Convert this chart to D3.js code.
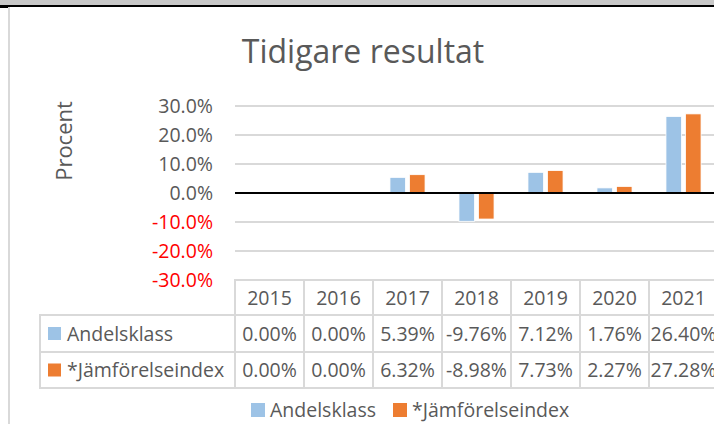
<!DOCTYPE html>
<html>
<head>
<meta charset="utf-8">
<script src="https://cdn.jsdelivr.net/npm/d3@7"></script>
<style>
  body { margin: 0; background: #fff; }
  text { font-family: "Open Sans", sans-serif; fill: #595959; }
</style>
</head>
<body>
<div id="chart"></div>
<script>
const years = ["2015", "2016", "2017", "2018", "2019", "2020", "2021"];
const seriesNames = ["Andelsklass", "*Jämförelseindex"];
const andelsklass = [0.00, 0.00, 5.39, -9.76, 7.12, 1.76, 26.40];
const jamforelse = [0.00, 0.00, 6.32, -8.98, 7.73, 2.27, 27.28];
const yTicks = [-30, -20, -10, 0, 10, 20, 30];
const colors = ["#9dc3e6", "#ed7d31"];

const W = 714, H = 424;
const fs = 19.5;

const svg = d3.select("#chart").append("svg")
    .attr("width", W)
    .attr("height", H);

// window chrome at top and left edge
svg.append("rect").attr("x", 0).attr("y", 0).attr("width", W).attr("height", 5).attr("fill", "#c8c8c8");
svg.append("rect").attr("x", 0).attr("y", 5).attr("width", W).attr("height", 2).attr("fill", "#000");
svg.append("rect").attr("x", 0).attr("y", 5).attr("width", 8).attr("height", 3).attr("fill", "#000");
svg.append("line").attr("x1", 9).attr("x2", 9).attr("y1", 7).attr("y2", H)
    .attr("stroke", "#d9d9d9").attr("stroke-width", 2);

const x = d3.scaleBand().domain(years).range([235, 718]);
const xInner = d3.scaleBand().domain(seriesNames).range([0, x.bandwidth()])
    .paddingInner(0.2).paddingOuter(0.87);
const y = d3.scaleLinear().domain([-30, 30]).range([280, 106]);

// title
svg.append("text")
    .attr("x", 363).attr("y", 63)
    .attr("text-anchor", "middle")
    .style("font-size", "32px")
    .text("Tidigare resultat");

// y axis title
svg.append("text")
    .attr("transform", `translate(72, 141) rotate(-90)`)
    .attr("text-anchor", "middle")
    .style("font-size", "22px")
    .text("Procent");

// gridlines
svg.append("g").selectAll("line")
    .data(yTicks.filter(d => d !== 0 && d !== -30))
    .enter().append("line")
    .attr("x1", 235).attr("x2", W)
    .attr("y1", d => y(d)).attr("y2", d => y(d))
    .attr("stroke", "#d9d9d9").attr("stroke-width", 2);

// tick labels
svg.append("g").selectAll("text")
    .data(yTicks)
    .enter().append("text")
    .attr("x", 213)
    .attr("y", d => y(d))
    .attr("dy", "0.36em")
    .attr("text-anchor", "end")
    .style("font-size", fs + "px")
    .style("fill", d => d < 0 ? "#ff0000" : "#595959")
    .text(d => d.toFixed(1) + "%");

// bars
const rows = years.map((yr, i) => ({ year: yr, values: [andelsklass[i], jamforelse[i]] }));
svg.append("g").selectAll("g")
    .data(rows)
    .enter().append("g")
    .attr("transform", d => `translate(${x(d.year)},0)`)
    .selectAll("rect")
    .data(d => d.values.map((v, k) => ({ key: seriesNames[k], value: v, k: k })))
    .enter().append("rect")
    .attr("x", d => xInner(d.key))
    .attr("width", xInner.bandwidth())
    .attr("y", d => y(Math.max(0, d.value)))
    .attr("height", d => Math.abs(y(d.value) - y(0)))
    .attr("fill", d => colors[d.k])
    .attr("stroke", "#fff")
    .attr("stroke-width", 0.8);

// zero line
svg.append("line")
    .attr("x1", 235).attr("x2", W)
    .attr("y1", y(0)).attr("y2", y(0))
    .attr("stroke", "#000").attr("stroke-width", 2);

// data table
const rowTop = [280, 315, 352, 388];
const tableColor = "#d9d9d9";
const table = svg.append("g");

// header row cells
years.forEach(yr => {
    table.append("rect")
        .attr("x", x(yr)).attr("y", rowTop[0])
        .attr("width", x.bandwidth()).attr("height", rowTop[1] - rowTop[0])
        .attr("fill", "none").attr("stroke", tableColor).attr("stroke-width", 2);
    table.append("text")
        .attr("x", x(yr) + x.bandwidth() / 2)
        .attr("y", (rowTop[0] + rowTop[1]) / 2)
        .attr("dy", "0.36em")
        .attr("text-anchor", "middle")
        .style("font-size", fs + "px")
        .text(yr);
});

[andelsklass, jamforelse].forEach((vals, k) => {
    const top = rowTop[k + 1], bot = rowTop[k + 2];
    const mid = (top + bot) / 2;
    table.append("rect")
        .attr("x", 40).attr("y", top)
        .attr("width", 235 - 40).attr("height", bot - top)
        .attr("fill", "none").attr("stroke", tableColor).attr("stroke-width", 2);
    table.append("rect")
        .attr("x", 48).attr("y", mid - 6.5)
        .attr("width", 13).attr("height", 13)
        .attr("fill", colors[k]);
    table.append("text")
        .attr("x", 67).attr("y", mid).attr("dy", "0.36em")
        .style("font-size", fs + "px")
        .text(seriesNames[k]);
    years.forEach((yr, i) => {
        table.append("rect")
            .attr("x", x(yr)).attr("y", top)
            .attr("width", x.bandwidth()).attr("height", bot - top)
            .attr("fill", "none").attr("stroke", tableColor).attr("stroke-width", 2);
        table.append("text")
            .attr("x", x(yr) + x.bandwidth() / 2)
            .attr("y", mid).attr("dy", "0.36em")
            .attr("text-anchor", "middle")
            .style("font-size", fs + "px")
            .text(vals[i].toFixed(2) + "%");
    });
});

// legend
const legend = svg.append("g");
const legendX = [251, 393];
seriesNames.forEach((name, k) => {
    legend.append("rect")
        .attr("x", legendX[k]).attr("y", 403)
        .attr("width", 14).attr("height", 14)
        .attr("fill", colors[k]);
    legend.append("text")
        .attr("x", legendX[k] + 19).attr("y", 410).attr("dy", "0.36em")
        .style("font-size", fs + "px")
        .text(name);
});
</script>
</body>
</html>
